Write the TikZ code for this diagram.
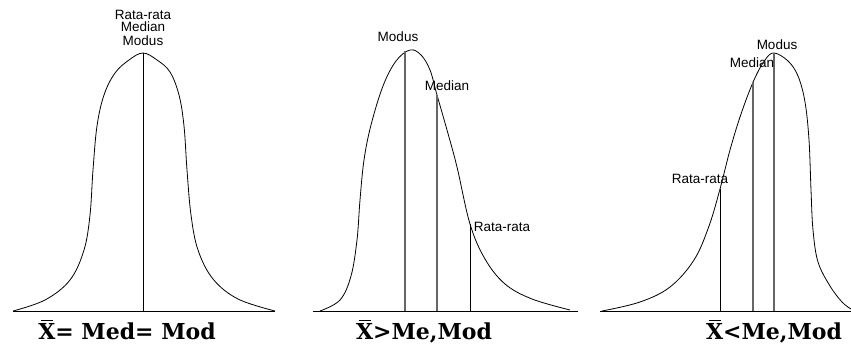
\documentclass[tikz,border=0pt]{standalone}
\usepackage{fontspec}
\setmainfont{Liberation Sans}
\newfontfamily\boldserif{DejaVu Serif}
\newcommand\xbarsym{\ooalign{X\cr\hidewidth\rule[18.5pt]{0.55em}{1.4pt}\hidewidth\cr}}
\begin{document}
\begin{tikzpicture}[x=1pt,y=-1pt,
  curve/.style={line width=0.8pt, smooth, tension=0.6},
  base/.style={line width=0.9pt},
  mline/.style={line width=0.8pt},
  gline/.style={line width=1.2pt, draw=black!60},
  lab/.style={font=\fontsize{13.5}{14}\selectfont, inner sep=0pt},
  big/.style={font=\boldserif\bfseries\fontsize{22}{24}\selectfont, inner sep=0pt, anchor=base}]
\useasboundingbox (0,0) rectangle (851,352);
% ---------- panel 1 ----------
\draw[base] (13,311) -- (275,311);
\draw[curve] plot coordinates {(13,311) (45,300) (70,280) (84,250) (90,215) (93,170) (97,126) (104,95) (115,73) (129,60) (143,53)
 (157,60) (170,72) (179,95) (184,126) (187,170) (191,215) (198,250) (213,279) (238,299) (275,311)};
\coordinate (p1top) at (143,53);
\coordinate (p1bot) at (143,311);
\draw[mline] (p1top) -- (p1bot);
\node[lab] (p1r) at (143,15) {Rata-rata};
\node[lab] (p1me) at (143,27) {Median};
\node[lab] (p1mo) at (143,41) {Modus};
\node[big] (p1x) at (127,340) {\xbarsym= Med= Mod};
% ---------- panel 2 ----------
\draw[base] (313,311) -- (578,311);
\draw[curve] plot coordinates {(320,311) (340,300) (351,276) (357,240) (360,200) (364,160) (371,125) (383,86) (396,61) (410,50) (421,55) (430,70) (437,95) (447,130) (457,167) (470,224) (485,259) (505,284) (532,299) (570,310)};
\coordinate (p2mo) at (405,51);
\coordinate (p2me) at (437,95);
\coordinate (p2ra) at (470,224);
\draw[gline] (p2mo) -- (p2mo |- p1bot);
\draw[gline] (p2me) -- (p2me |- p1bot);
\draw[mline] (p2ra) -- (p2ra |- p1bot);
\node[lab] (p2mol) at (398,37) {Modus};
\node[lab] (p2mel) at (447,86) {Median};
\node[lab] (p2ral) at (502,227) {Rata-rata};
\node[big] (p2x) at (424,340) {\xbarsym>Me,Mod};
% ---------- panel 3 ----------
\draw[base] (600,311) -- (851,311);
\draw[curve] plot coordinates {(602,311) (640,302) (670,287) (694,260) (709,226) (720,189) (730,150) (741,114) (754,80) (765,60) (774,53) (788,61) (798,76) (805,102) (809,140) (811,190) (813,230) (818,262) (830,286) (842,302) (851,309)};
\coordinate (p3ra) at (720,189);
\coordinate (p3me) at (753,82);
\coordinate (p3mo) at (774,53);
\draw[mline] (p3ra) -- (p3ra |- p1bot);
\draw[gline] (p3me) -- (p3me |- p1bot);
\draw[gline] (p3mo) -- (p3mo |- p1bot);
\node[lab] (p3mol) at (777,45) {Modus};
\node[lab] (p3mel) at (752,63) {Median};
\node[lab] (p3ral) at (700,179) {Rata-rata};
\node[big] (p3x) at (774,340) {\xbarsym<Me,Mod};
\end{tikzpicture}
\end{document}
